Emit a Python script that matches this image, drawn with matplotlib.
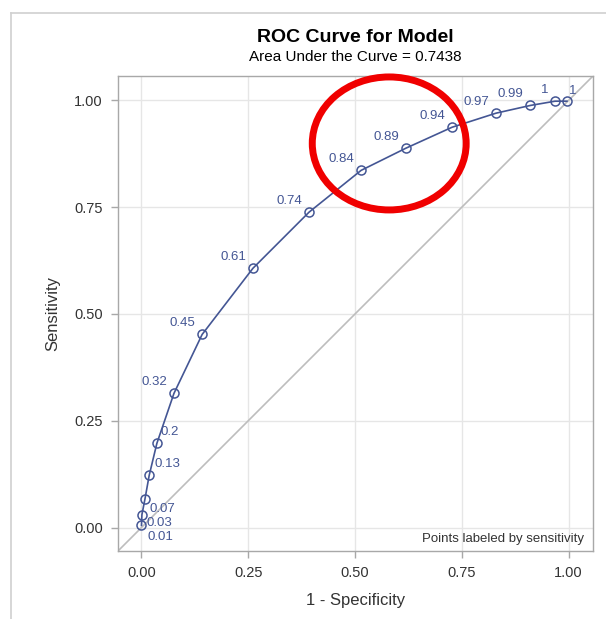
import matplotlib
matplotlib.use("Agg")
from matplotlib import pyplot as plt
from matplotlib.lines import Line2D
from matplotlib.patches import Ellipse
import numpy as np

plt.rcParams['font.family'] = ['Liberation Sans', 'DejaVu Sans']

# data: 1 - specificity and sensitivity of each cutoff
fpr = [0.000, 0.001, 0.008, 0.018, 0.036, 0.076, 0.142, 0.261, 0.392,
       0.514, 0.619, 0.727, 0.830, 0.910, 0.968, 0.996]
tpr = [0.005, 0.030, 0.066, 0.122, 0.197, 0.314, 0.452, 0.607, 0.738,
       0.836, 0.888, 0.937, 0.970, 0.988, 0.998, 0.998]
point_labels = ['0.01', '0.03', '0.07', '0.13', '0.2', '0.32', '0.45', '0.61', '0.74',
                '0.84', '0.89', '0.94', '0.97', '0.99', '1', '1']
ticks = [0.0, 0.25, 0.5, 0.75, 1.0]
tick_labels = ['0.00', '0.25', '0.50', '0.75', '1.00']
auc = 0.7438

# label placement (offset pixels, alignment)
up_left = (-7, 11, 'right')
offsets = [(6, -12, 'left'), (5, -8, 'left'), (5, -10, 'left'), (5, 11, 'left'),
           (4, 11, 'left')] + [up_left] * 10 + [(2, 10, 'left')]

blue = '#445694'
frame = '#A8A8A8'

fig = plt.figure(figsize=(6.06, 6.19), dpi=100)
ax = fig.add_axes([118 / 606, 68 / 619, 475 / 606, 475 / 619])

lo, hi = -0.055, 1.057
ax.set_xlim(lo, hi)
ax.set_ylim(lo, hi)

ax.grid(True, color='#E6E6E6', linewidth=1.0)
ax.set_axisbelow(True)

# diagonal reference line
ax.plot([lo, hi], [lo, hi], color='#BDBDBD', linewidth=1.2, zorder=2)

ax.plot(fpr, tpr, color=blue, linewidth=1.2, marker='o', markersize=6.5,
        markerfacecolor='none', markeredgecolor=blue, markeredgewidth=1.1, zorder=3)

for x, y, lab, (dx, dy, ha) in zip(fpr, tpr, point_labels, offsets):
    ax.annotate(lab, (x, y), xytext=(dx, dy), textcoords='offset pixels',
                ha=ha, va='center', fontsize=9.5, color=blue)

ax.text(0.981, 0.025, 'Points labeled by sensitivity', transform=ax.transAxes,
        ha='right', va='center', fontsize=9.5, color='#333333')

# red highlight circle drawn over the chart
ax.add_patch(Ellipse((0.571, 0.858), 0.324, 0.280, transform=ax.transAxes,
                     fill=False, edgecolor='#F00000', linewidth=5, clip_on=False, zorder=5))

ax.set_xticks(ticks)
ax.set_xticklabels(tick_labels)
ax.set_yticks(ticks)
ax.set_yticklabels(tick_labels)
ax.tick_params(axis='both', length=5, width=1, color=frame, labelsize=10.5,
               labelcolor='#333333', pad=6)
for s in ax.spines.values():
    s.set_color(frame)
    s.set_linewidth(1.0)

ax.set_xlabel('1 - Specificity', fontsize=12, color='#333333', labelpad=9)
ax.set_ylabel('Sensitivity', fontsize=12, color='#333333', labelpad=10)

cx = (118 + 475 / 2) / 606
fig.text(cx, 1 - 38 / 619, 'ROC Curve for Model', ha='center', va='center',
         fontsize=14, fontweight='bold', color='black')
fig.text(cx, 1 - 57 / 619, f'Area Under the Curve = {auc}', ha='center', va='center',
         fontsize=11, color='black')

# light frame at the left and top of the image
fig.add_artist(Line2D([11 / 606, 11 / 606], [0, 1 - 13 / 619], transform=fig.transFigure,
                      color='#D0D0D0', linewidth=1.2))
fig.add_artist(Line2D([11 / 606, 1], [1 - 13 / 619, 1 - 13 / 619], transform=fig.transFigure,
                      color='#D0D0D0', linewidth=1.2))

fig.savefig('out.png', dpi=100)
